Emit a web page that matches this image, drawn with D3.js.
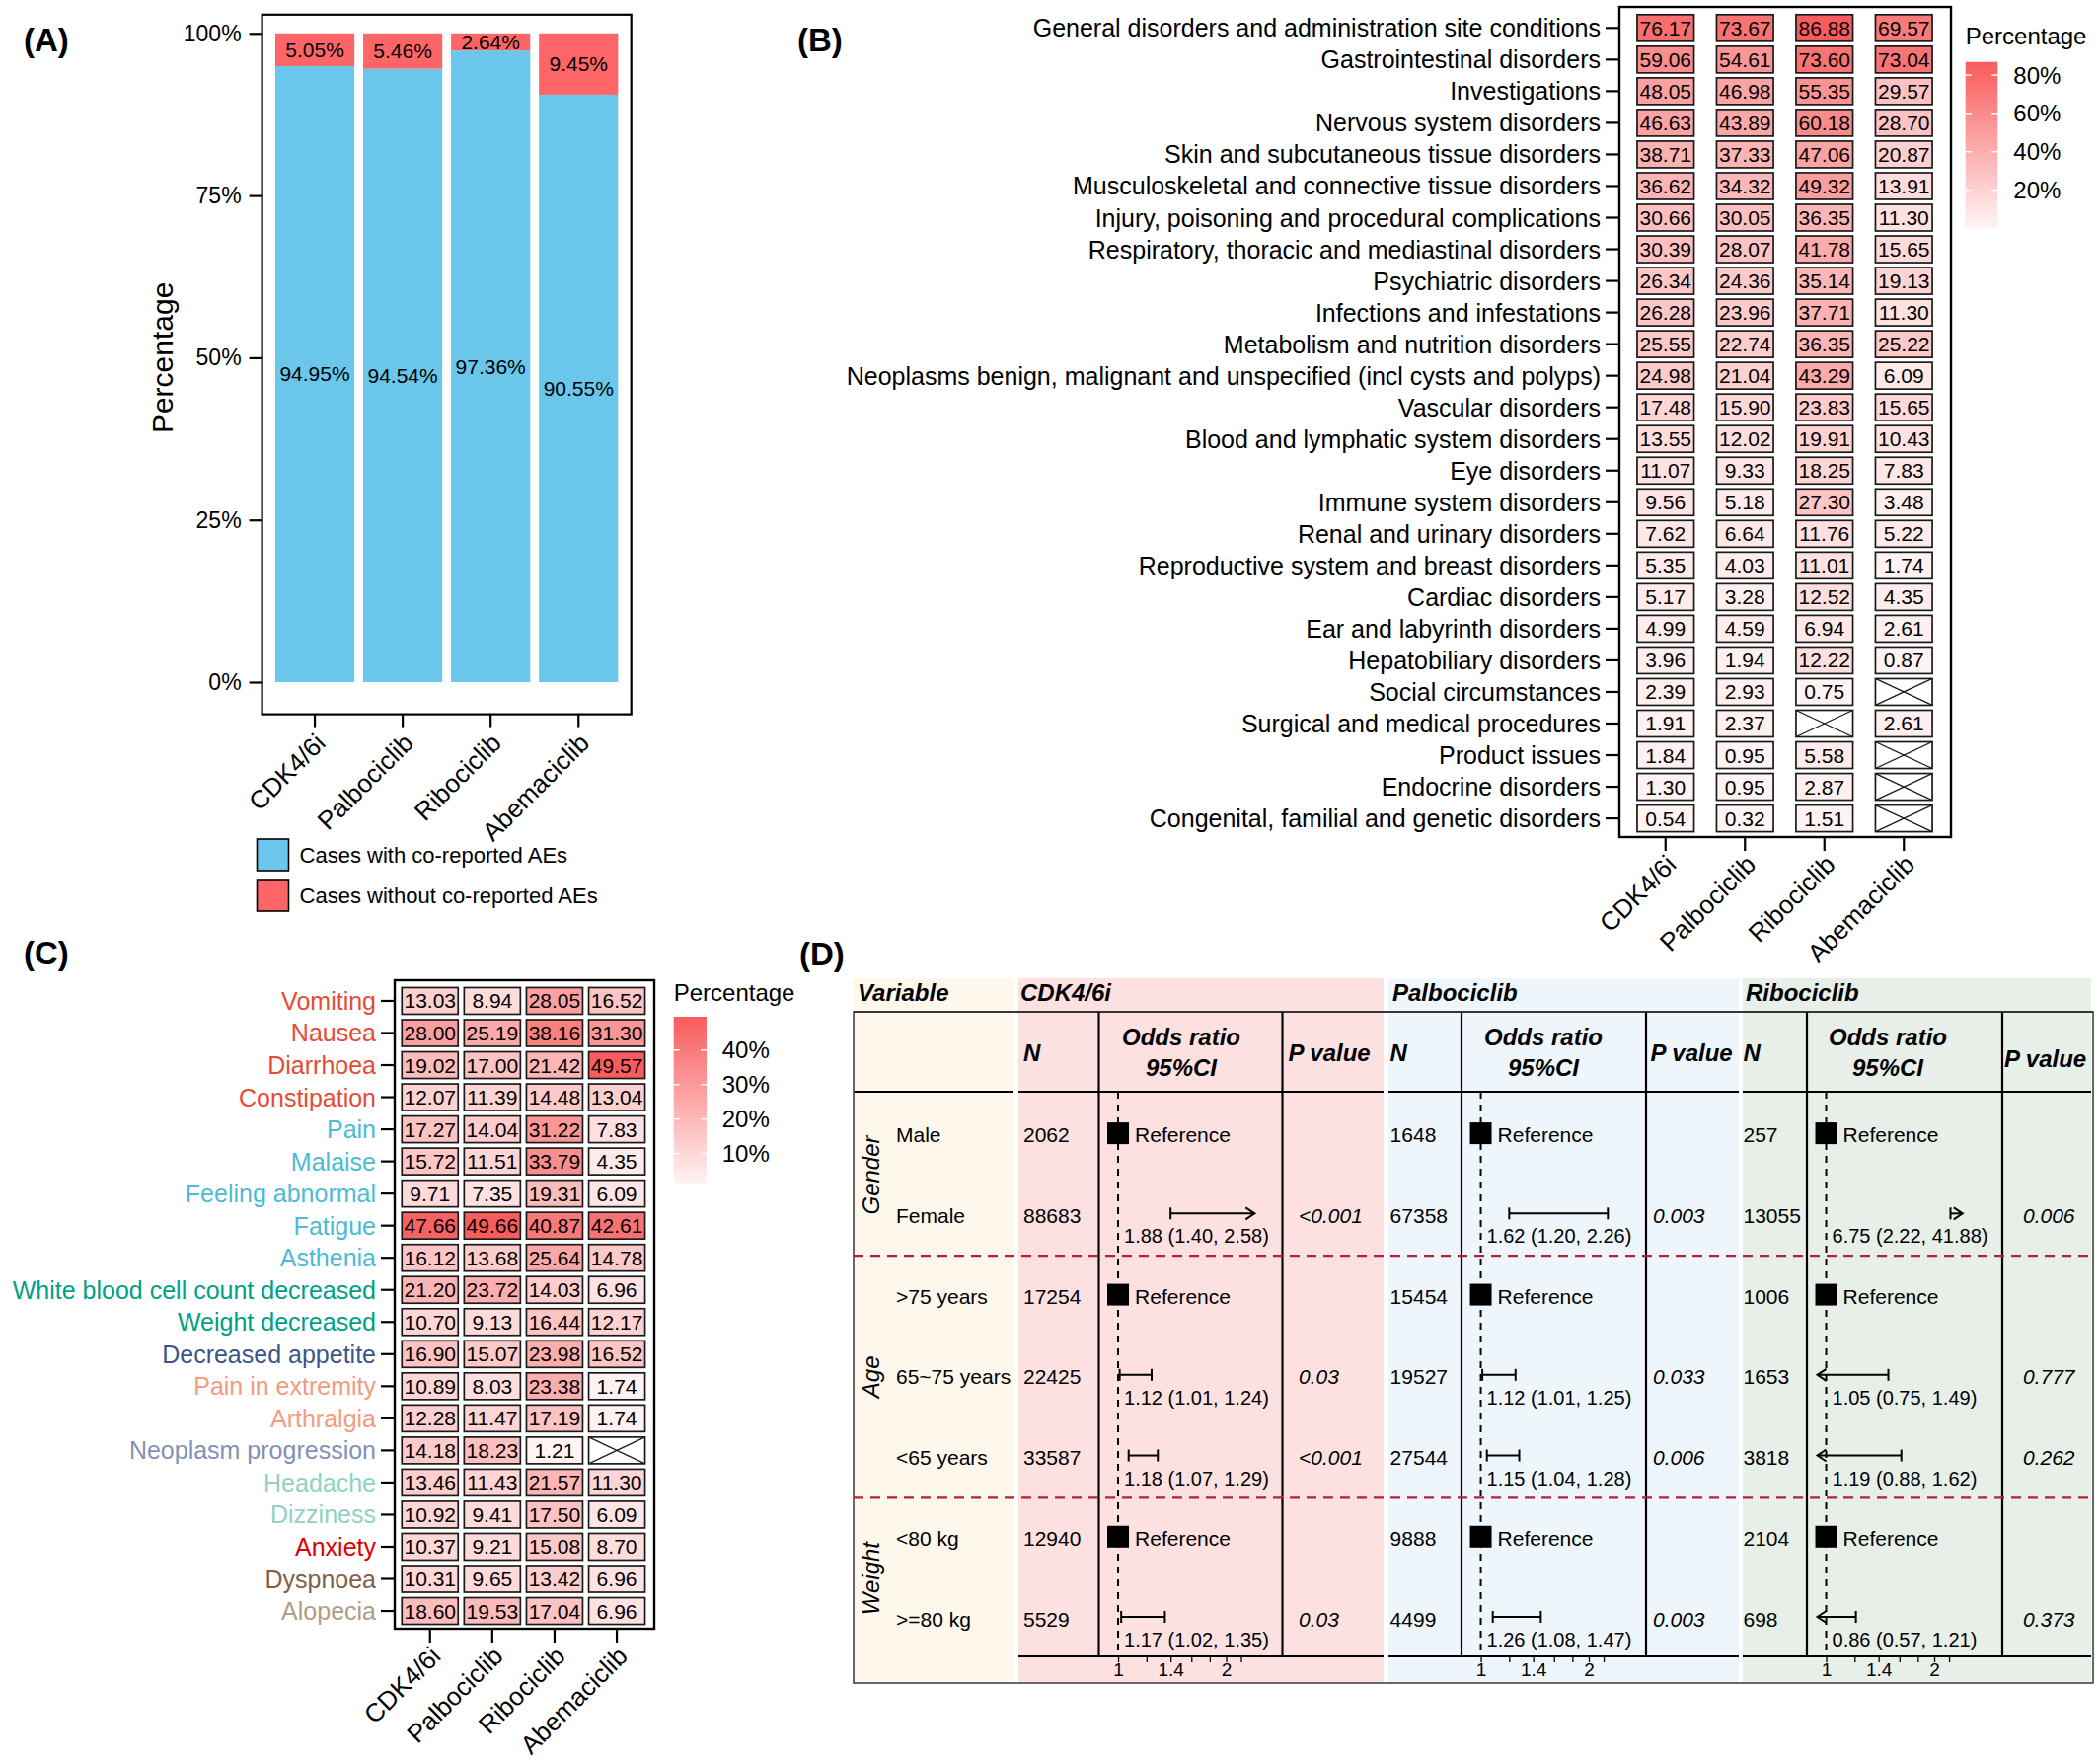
<!DOCTYPE html>
<html>
<head>
<meta charset="utf-8">
<script src="https://cdn.jsdelivr.net/npm/d3@7"></script>
<style>
  body { margin: 0; background: #fff; }
  text { font-family: "Liberation Sans", Arial, sans-serif; }
</style>
</head>
<body>
<svg id="fig" width="2128" height="1785"></svg>
<script>
// ---------- data ----------
var drugs = ["CDK4/6i", "Palbociclib", "Ribociclib", "Abemaciclib"];

// (A) co-reported AEs
var withAEs = [94.95, 94.54, 97.36, 90.55];
var withoutAEs = [5.05, 5.46, 2.64, 9.45];
var pctTicks = [0, 25, 50, 75, 100];
var legendA = ["Cases with co-reported AEs", "Cases without co-reported AEs"];

// (B) SOC percentages
var socNames = ["General disorders and administration site conditions", "Gastrointestinal disorders",
    "Investigations", "Nervous system disorders", "Skin and subcutaneous tissue disorders",
    "Musculoskeletal and connective tissue disorders", "Injury, poisoning and procedural complications",
    "Respiratory, thoracic and mediastinal disorders", "Psychiatric disorders", "Infections and infestations",
    "Metabolism and nutrition disorders", "Neoplasms benign, malignant and unspecified (incl cysts and polyps)",
    "Vascular disorders", "Blood and lymphatic system disorders", "Eye disorders", "Immune system disorders",
    "Renal and urinary disorders", "Reproductive system and breast disorders", "Cardiac disorders",
    "Ear and labyrinth disorders", "Hepatobiliary disorders", "Social circumstances",
    "Surgical and medical procedures", "Product issues", "Endocrine disorders",
    "Congenital, familial and genetic disorders"];
var socCDK = [76.17, 59.06, 48.05, 46.63, 38.71, 36.62, 30.66, 30.39, 26.34, 26.28, 25.55, 24.98, 17.48,
    13.55, 11.07, 9.56, 7.62, 5.35, 5.17, 4.99, 3.96, 2.39, 1.91, 1.84, 1.30, 0.54];
var socPalbo = [73.67, 54.61, 46.98, 43.89, 37.33, 34.32, 30.05, 28.07, 24.36, 23.96, 22.74, 21.04, 15.90,
    12.02, 9.33, 5.18, 6.64, 4.03, 3.28, 4.59, 1.94, 2.93, 2.37, 0.95, 0.95, 0.32];
var socRibo = [86.88, 73.60, 55.35, 60.18, 47.06, 49.32, 36.35, 41.78, 35.14, 37.71, 36.35, 43.29, 23.83,
    19.91, 18.25, 27.30, 11.76, 11.01, 12.52, 6.94, 12.22, 0.75, null, 5.58, 2.87, 1.51];
var socAbema = [69.57, 73.04, 29.57, 28.70, 20.87, 13.91, 11.30, 15.65, 19.13, 11.30, 25.22, 6.09, 15.65,
    10.43, 7.83, 3.48, 5.22, 1.74, 4.35, 2.61, 0.87, null, 2.61, null, null, null];
var socTicks = [20, 40, 60, 80];

// (C) preferred terms
var aeNames = ["Vomiting", "Nausea", "Diarrhoea", "Constipation", "Pain", "Malaise", "Feeling abnormal",
    "Fatigue", "Asthenia", "White blood cell count decreased", "Weight decreased", "Decreased appetite",
    "Pain in extremity", "Arthralgia", "Neoplasm progression", "Headache", "Dizziness", "Anxiety",
    "Dyspnoea", "Alopecia"];
var aeColors = ["#E64B35", "#E64B35", "#E64B35", "#E64B35", "#4DBBD5", "#4DBBD5", "#4DBBD5", "#4DBBD5",
    "#4DBBD5", "#00A087", "#00A087", "#3C5488", "#F39B7F", "#F39B7F", "#8491B4", "#91D1C2", "#91D1C2",
    "#DC0000", "#7E6148", "#B09C85"];
var aeCDK = [13.03, 28.00, 19.02, 12.07, 17.27, 15.72, 9.71, 47.66, 16.12, 21.20, 10.70, 16.90, 10.89,
    12.28, 14.18, 13.46, 10.92, 10.37, 10.31, 18.60];
var aePalbo = [8.94, 25.19, 17.00, 11.39, 14.04, 11.51, 7.35, 49.66, 13.68, 23.72, 9.13, 15.07, 8.03,
    11.47, 18.23, 11.43, 9.41, 9.21, 9.65, 19.53];
var aeRibo = [28.05, 38.16, 21.42, 14.48, 31.22, 33.79, 19.31, 40.87, 25.64, 14.03, 16.44, 23.98, 23.38,
    17.19, 1.21, 21.57, 17.50, 15.08, 13.42, 17.04];
var aeAbema = [16.52, 31.30, 49.57, 13.04, 7.83, 4.35, 6.09, 42.61, 14.78, 6.96, 12.17, 16.52, 1.74,
    1.74, null, 11.30, 6.09, 8.70, 6.96, 6.96];
var aeTicks = [10, 20, 30, 40];

// (D) multivariable odds ratios
var groupNames = ["Gender", "Age", "Weight"];
var subgroups = ["Male", "Female", ">75 years", "65~75 years", "<65 years", "<80 kg", ">=80 kg"];
var subgroupGroup = ["Gender", "Gender", "Age", "Age", "Age", "Weight", "Weight"];
var forestDrugs = ["CDK4/6i", "Palbociclib", "Ribociclib"];
var cdkN = [2062, 88683, 17254, 22425, 33587, 12940, 5529];
var cdkOR = [null, 1.88, null, 1.12, 1.18, null, 1.17];
var cdkLo = [null, 1.40, null, 1.01, 1.07, null, 1.02];
var cdkHi = [null, 2.58, null, 1.24, 1.29, null, 1.35];
var cdkP = ["", "<0.001", "", "0.03", "<0.001", "", "0.03"];
var palboN = [1648, 67358, 15454, 19527, 27544, 9888, 4499];
var palboOR = [null, 1.62, null, 1.12, 1.15, null, 1.26];
var palboLo = [null, 1.20, null, 1.01, 1.04, null, 1.08];
var palboHi = [null, 2.26, null, 1.25, 1.28, null, 1.47];
var palboP = ["", "0.003", "", "0.033", "0.006", "", "0.003"];
var riboN = [257, 13055, 1006, 1653, 3818, 2104, 698];
var riboOR = [null, 6.75, null, 1.05, 1.19, null, 0.86];
var riboLo = [null, 2.22, null, 0.75, 0.88, null, 0.57];
var riboHi = [null, 41.88, null, 1.49, 1.62, null, 1.21];
var riboP = ["", "0.006", "", "0.777", "0.262", "", "0.373"];
var orLimits = [0.945, 2.4];
var orTicks = [1, 1.2, 1.4, 1.6, 1.8, 2, 2.2];
var orTickLabels = ["1", "", "1.4", "", "", "2", ""];

// ---------- drawing ----------
var svg = d3.select("#fig");
svg.append("rect").attr("width", 2128).attr("height", 1785).style("fill", "#fff");

[["(A)", 24, 40], ["(B)", 808, 40], ["(C)", 24, 965], ["(D)", 810, 966]].forEach(function (p) {
    svg.append("text").attr("x", p[1]).attr("y", p[2]).attr("dominant-baseline", "central")
        .style("font-size", "33px").style("font-weight", "bold").text(p[0]);
});

function rotatedLabels(g, xScale, y, size) {
    g.selectAll("text.xl").data(drugs).enter().append("text")
        .attr("class", "xl")
        .attr("transform", function (d) {
            return "translate(" + (xScale(d) + xScale.bandwidth() / 2 + 6) + "," + y + ") rotate(-45)";
        })
        .attr("text-anchor", "end")
        .attr("dominant-baseline", "central")
        .style("font-size", size + "px")
        .text(function (d) { return d; });
}

// ===== (A) stacked bars =====
var gA = svg.append("g");
var ax = d3.scaleBand().domain(drugs).range([265.6, 639.7]).paddingInner(0.1).paddingOuter(0.15);
var ay = d3.scaleLinear().domain([0, 100]).range([691, 33.8]);

gA.selectAll("rect.withAE").data(drugs).enter().append("rect")
    .attr("x", function (d) { return ax(d); })
    .attr("y", function (d, i) { return ay(withAEs[i]); })
    .attr("width", ax.bandwidth())
    .attr("height", function (d, i) { return ay(0) - ay(withAEs[i]); })
    .style("fill", "#6AC6EB");
gA.selectAll("rect.withoutAE").data(drugs).enter().append("rect")
    .attr("x", function (d) { return ax(d); })
    .attr("y", function (d, i) { return ay(withAEs[i] + withoutAEs[i]); })
    .attr("width", ax.bandwidth())
    .attr("height", function (d, i) { return ay(withAEs[i]) - ay(withAEs[i] + withoutAEs[i]); })
    .style("fill", "#FD6566");
gA.selectAll("text.lblWith").data(drugs).enter().append("text")
    .attr("x", function (d) { return ax(d) + ax.bandwidth() / 2; })
    .attr("y", function (d, i) { return ay(withAEs[i] / 2); })
    .attr("text-anchor", "middle").attr("dominant-baseline", "central")
    .style("font-size", "21px")
    .text(function (d, i) { return withAEs[i].toFixed(2) + "%"; });
gA.selectAll("text.lblWithout").data(drugs).enter().append("text")
    .attr("x", function (d) { return ax(d) + ax.bandwidth() / 2; })
    .attr("y", function (d, i) { return ay(withAEs[i] + withoutAEs[i] / 2); })
    .attr("text-anchor", "middle").attr("dominant-baseline", "central")
    .style("font-size", "21px")
    .text(function (d, i) { return withoutAEs[i].toFixed(2) + "%"; });

gA.append("rect").attr("x", 265.6).attr("y", 14.8).attr("width", 374.1).attr("height", 708.8)
    .style("fill", "none").attr("stroke", "black").attr("stroke-width", 2.2);

var yAxisA = gA.append("g").attr("transform", "translate(265.6,0)")
    .call(d3.axisLeft(ay).tickValues(pctTicks).tickFormat(function (d) { return d + "%"; }).tickSize(13).tickPadding(8));
yAxisA.select(".domain").remove();
yAxisA.selectAll("line").attr("stroke-width", 2.2);
yAxisA.selectAll("text").style("font-size", "23px").attr("fill", "black").style("font-family", "Liberation Sans, Arial, sans-serif");

var xAxisA = gA.append("g").attr("transform", "translate(0,723.6)")
    .call(d3.axisBottom(ax).tickSize(13).tickFormat(""));
xAxisA.select(".domain").remove();
xAxisA.selectAll("line").attr("stroke-width", 2.2);
rotatedLabels(gA, ax, 748, 26);

gA.append("text").attr("transform", "translate(164," + ((ay(0) + ay(100)) / 2) + ") rotate(-90)")
    .attr("text-anchor", "middle").attr("dominant-baseline", "central")
    .style("font-size", "30px").text("Percentage");

gA.selectAll("rect.leg").data(legendA).enter().append("rect")
    .attr("x", 260.5).attr("y", function (d, i) { return 850 + i * 41; })
    .attr("width", 32).attr("height", 32)
    .style("fill", function (d, i) { return i === 0 ? "#6AC6EB" : "#FD6566"; })
    .attr("stroke", "black").attr("stroke-width", 1.6);
gA.selectAll("text.leg").data(legendA).enter().append("text")
    .attr("x", 303.6).attr("y", function (d, i) { return 866 + i * 41; })
    .attr("dominant-baseline", "central").style("font-size", "22px")
    .text(function (d) { return d; });

// ===== heatmap helper for (B) and (C) =====
function heatmap(opt) {
    var g = svg.append("g");
    var hx = d3.scaleBand().domain(drugs).range(opt.xRange);
    var hy = d3.scaleBand().domain(opt.rows).range(opt.yRange);
    var all = [];
    opt.cols.forEach(function (c) { c.forEach(function (v) { if (v !== null) all.push(v); }); });
    var lo = d3.min(all), hi = d3.max(all);
    var color = d3.scaleLinear().domain([lo, hi]).range(["#FFF4F4", "#F85C5C"]);

    var cells = [];
    opt.cols.forEach(function (c, j) {
        c.forEach(function (v, i) { cells.push({ drug: drugs[j], row: opt.rows[i], v: v }); });
    });
    var cw = opt.cellW, ch = opt.cellH;
    var cell = g.selectAll("g.cell").data(cells).enter().append("g")
        .attr("transform", function (d) {
            return "translate(" + (hx(d.drug) + hx.bandwidth() / 2) + "," + (hy(d.row) + hy.bandwidth() / 2) + ")";
        });
    cell.append("rect")
        .attr("x", -cw / 2).attr("y", -ch / 2).attr("width", cw).attr("height", ch)
        .style("fill", function (d) { return d.v === null ? "#fff" : color(d.v); })
        .attr("stroke", "#1a1a1a").attr("stroke-width", 1.7);
    cell.filter(function (d) { return d.v === null; }).each(function () {
        var s = d3.select(this);
        s.append("line").attr("x1", -cw / 2).attr("y1", -ch / 2).attr("x2", cw / 2).attr("y2", ch / 2)
            .attr("stroke", "#1a1a1a").attr("stroke-width", 1.3);
        s.append("line").attr("x1", -cw / 2).attr("y1", ch / 2).attr("x2", cw / 2).attr("y2", -ch / 2)
            .attr("stroke", "#1a1a1a").attr("stroke-width", 1.3);
    });
    cell.filter(function (d) { return d.v !== null; }).append("text")
        .attr("text-anchor", "middle").attr("dominant-baseline", "central")
        .style("font-size", opt.valSize + "px")
        .text(function (d) { return d.v.toFixed(2); });

    // frame
    g.append("rect").attr("x", opt.frame[0]).attr("y", opt.frame[1])
        .attr("width", opt.frame[2] - opt.frame[0]).attr("height", opt.frame[3] - opt.frame[1])
        .style("fill", "none").attr("stroke", "black").attr("stroke-width", 2.4);

    // row labels + ticks
    g.selectAll("line.ytick").data(opt.rows).enter().append("line")
        .attr("x1", opt.frame[0] - 14).attr("x2", opt.frame[0])
        .attr("y1", function (d) { return hy(d) + hy.bandwidth() / 2; })
        .attr("y2", function (d) { return hy(d) + hy.bandwidth() / 2; })
        .attr("stroke", "black").attr("stroke-width", 2.2);
    g.selectAll("text.ylab").data(opt.rows).enter().append("text")
        .attr("x", opt.frame[0] - 19)
        .attr("y", function (d) { return hy(d) + hy.bandwidth() / 2; })
        .attr("text-anchor", "end").attr("dominant-baseline", "central")
        .style("font-size", "25px")
        .style("fill", function (d, i) { return opt.rowColors ? opt.rowColors[i] : "black"; })
        .text(function (d) { return d; });

    // x ticks + labels
    g.selectAll("line.xtick").data(drugs).enter().append("line")
        .attr("x1", function (d) { return hx(d) + hx.bandwidth() / 2; })
        .attr("x2", function (d) { return hx(d) + hx.bandwidth() / 2; })
        .attr("y1", opt.frame[3]).attr("y2", opt.frame[3] + 14)
        .attr("stroke", "black").attr("stroke-width", 2.2);
    rotatedLabels(g, hx, opt.frame[3] + 23, 26);

    // colour legend
    var L = opt.legend;
    var ly = d3.scaleLinear().domain([lo, hi]).range([L.y1, L.y0]);
    var gid = "grad" + opt.id;
    var grad = svg.append("defs").append("linearGradient").attr("id", gid)
        .attr("x1", 0).attr("y1", 1).attr("x2", 0).attr("y2", 0);
    d3.range(0, 1.0001, 0.1).forEach(function (t) {
        grad.append("stop").attr("offset", t).attr("stop-color", color(lo + t * (hi - lo)));
    });
    g.append("text").attr("x", L.x).attr("y", L.titleY).attr("dominant-baseline", "central")
        .style("font-size", "24px").text("Percentage");
    g.append("rect").attr("x", L.x).attr("y", L.y0).attr("width", L.w).attr("height", L.y1 - L.y0)
        .style("fill", "url(#" + gid + ")");
    g.selectAll("line.lt1").data(opt.ticks).enter().append("line")
        .attr("x1", L.x).attr("x2", L.x + 6)
        .attr("y1", function (d) { return ly(d); }).attr("y2", function (d) { return ly(d); })
        .attr("stroke", "white").attr("stroke-width", 1.5);
    g.selectAll("line.lt2").data(opt.ticks).enter().append("line")
        .attr("x1", L.x + L.w - 6).attr("x2", L.x + L.w)
        .attr("y1", function (d) { return ly(d); }).attr("y2", function (d) { return ly(d); })
        .attr("stroke", "white").attr("stroke-width", 1.5);
    g.selectAll("text.lt").data(opt.ticks).enter().append("text")
        .attr("x", L.x + L.w + L.gap).attr("y", function (d) { return ly(d); })
        .attr("dominant-baseline", "central").style("font-size", "24px")
        .text(function (d) { return d + "%"; });
}

// ===== (B) =====
heatmap({
    id: "B", rows: socNames, cols: [socCDK, socPalbo, socRibo, socAbema], ticks: socTicks,
    xRange: [1647.5, 1969.5], yRange: [12.3, 845.1], cellW: 57.6, cellH: 27, valSize: 21,
    frame: [1641, 7, 1977, 848],
    legend: { x: 1991.7, w: 32.6, y0: 62.7, y1: 230.7, titleY: 36, gap: 16 }
});

// ===== (C) =====
heatmap({
    id: "C", rows: aeNames, cols: [aeCDK, aePalbo, aeRibo, aeAbema], ticks: aeTicks, rowColors: aeColors,
    xRange: [404.2, 656.6], yRange: [997.7, 1648.3], cellW: 57, cellH: 27, valSize: 21,
    frame: [400, 993, 663, 1650],
    legend: { x: 682.7, w: 33.3, y0: 1030, y1: 1199.3, titleY: 1005, gap: 15.7 }
});

// ===== (D) forest table =====
var gD = svg.append("g");
var blocks = [
    { n: cdkN, or: cdkOR, lo: cdkLo, hi: cdkHi, p: cdkP, bg: "#FDE0E0" },
    { n: palboN, or: palboOR, lo: palboLo, hi: palboHi, p: palboP, bg: "#EEF6FC" },
    { n: riboN, or: riboOR, lo: riboLo, hi: riboHi, p: riboP, bg: "#E8EEE8" }
];
var blockX0 = [1032, 1407, 1766], blockX1 = [1402, 1762, 2119];
var sepA = [1113.5, 1481, 1831], sepB = [1299.5, 1668, 2029];
var nX = [1037, 1408.6, 1766.5], titleX = [1034, 1411, 1769];
var orHeadX = [1197, 1564, 1913], pHeadX = [1305.5, 1672.5, 2031], pHeadY = [1066.6, 1066.6, 1072];
var pX = [1316, 1675, 2050];
var tTop = 991, tLine = 1025, tHead = 1106, tAxis = 1678, tBottom = 1705, tLeft = 865, tRight = 2121;

var ry = d3.scalePoint().domain(subgroups).range([1149.6, 1640]);

gD.append("rect").attr("x", tLeft).attr("y", tTop).attr("width", 1027 - tLeft).attr("height", tBottom - tTop)
    .style("fill", "#FDF7EC");
blocks.forEach(function (b, k) {
    gD.append("rect").attr("x", blockX0[k]).attr("y", tTop).attr("width", blockX1[k] - blockX0[k])
        .attr("height", tBottom - tTop).style("fill", b.bg);
});

function headText(x, y, s, anchor) {
    gD.append("text").attr("x", x).attr("y", y).attr("text-anchor", anchor || "start")
        .attr("dominant-baseline", "central").style("font-size", "24px")
        .style("font-weight", "bold").style("font-style", "italic").text(s);
}
headText(869, 1005, "Variable");
forestDrugs.forEach(function (d, k) {
    headText(titleX[k], 1005, d);
    headText(nX[k], 1066.6, "N");
    headText(orHeadX[k], 1050, "Odds ratio", "middle");
    headText(orHeadX[k], 1081, "95%CI", "middle");
    headText(pHeadX[k], pHeadY[k], "P value");
});

// table lines
gD.append("line").attr("x1", tLeft).attr("x2", tRight).attr("y1", tLine).attr("y2", tLine)
    .attr("stroke", "black").attr("stroke-width", 2.2);
gD.append("line").attr("x1", tLeft).attr("x2", 1027).attr("y1", tHead).attr("y2", tHead)
    .attr("stroke", "black").attr("stroke-width", 2.2);
gD.append("rect").attr("x", tLeft).attr("y", tLine).attr("width", tRight - tLeft).attr("height", tBottom - tLine)
    .style("fill", "none").attr("stroke", "#444").attr("stroke-width", 1.6);

// group and subgroup labels
groupNames.forEach(function (gname) {
    var ys = subgroups.filter(function (s, i) { return subgroupGroup[i] === gname; }).map(ry);
    gD.append("text").attr("transform", "translate(882," + d3.mean(ys) + ") rotate(-90)")
        .attr("text-anchor", "middle").attr("dominant-baseline", "central")
        .style("font-size", "24px").style("font-style", "italic").text(gname);
});
gD.selectAll("text.sub").data(subgroups).enter().append("text")
    .attr("x", 908).attr("y", function (d) { return ry(d); })
    .attr("dominant-baseline", "central").style("font-size", "21px")
    .text(function (d) { return d; });

blocks.forEach(function (b, k) {
    var g = gD.append("g");
    var fx = d3.scaleLog().domain(orLimits).range([sepA[k] + 10.6, sepA[k] + 157.8]);
    var one = fx(1);

    [sepA[k], sepB[k]].forEach(function (sx) {
        g.append("line").attr("x1", sx).attr("x2", sx).attr("y1", tLine).attr("y2", tAxis)
            .attr("stroke", "black").attr("stroke-width", 2.2);
    });
    g.append("line").attr("x1", blockX0[k]).attr("x2", blockX1[k]).attr("y1", tHead).attr("y2", tHead)
        .attr("stroke", "black").attr("stroke-width", 2.2);

    var axis = g.append("g").attr("transform", "translate(0," + tAxis + ")")
        .call(d3.axisBottom(fx).tickValues(orTicks).tickSize(6)
            .tickFormat(function (d, i) { return orTickLabels[i]; }));
    axis.select(".domain").attr("d", "M" + blockX0[k] + ",0H" + blockX1[k]).attr("stroke-width", 2.2);
    axis.selectAll("line").attr("stroke-width", 1.3);
    axis.selectAll("text").attr("y", 13.6).attr("dy", null).attr("dominant-baseline", "central")
        .style("font-size", "19px").attr("fill", "black").style("font-family", "Liberation Sans, Arial, sans-serif");

    g.append("line").attr("x1", one).attr("x2", one).attr("y1", tHead).attr("y2", tAxis)
        .attr("stroke", "black").attr("stroke-width", 2).attr("stroke-dasharray", "7,6");

    subgroups.forEach(function (s, i) {
        var y = ry(s);
        g.append("text").attr("x", nX[k]).attr("y", y).attr("dominant-baseline", "central")
            .style("font-size", "21px").text(b.n[i]);
        if (b.or[i] === null) {
            g.append("rect").attr("x", one - 11).attr("y", y - 12.5).attr("width", 22).attr("height", 22)
                .style("fill", "black");
            g.append("text").attr("x", one + 17).attr("y", y).attr("dominant-baseline", "central")
                .style("font-size", "21px").text("Reference");
            return;
        }
        var cy = y - 2;
        var loClip = b.lo[i] < orLimits[0], hiClip = b.hi[i] > orLimits[1];
        var xa = fx(Math.max(b.lo[i], orLimits[0])), xb = fx(Math.min(b.hi[i], orLimits[1]));
        g.append("line").attr("x1", xa).attr("x2", xb).attr("y1", cy).attr("y2", cy)
            .attr("stroke", "black").attr("stroke-width", 2);
        if (loClip) {
            g.append("path").attr("d", "M" + (xa + 9) + "," + (cy - 6) + "L" + xa + "," + cy + "L" + (xa + 9) + "," + (cy + 6))
                .style("fill", "none").attr("stroke", "black").attr("stroke-width", 2);
        } else {
            g.append("line").attr("x1", xa).attr("x2", xa).attr("y1", cy - 6).attr("y2", cy + 6)
                .attr("stroke", "black").attr("stroke-width", 2);
        }
        if (hiClip) {
            g.append("path").attr("d", "M" + (xb - 9) + "," + (cy - 6) + "L" + xb + "," + cy + "L" + (xb - 9) + "," + (cy + 6))
                .style("fill", "none").attr("stroke", "black").attr("stroke-width", 2);
        } else {
            g.append("line").attr("x1", xb).attr("x2", xb).attr("y1", cy - 6).attr("y2", cy + 6)
                .attr("stroke", "black").attr("stroke-width", 2);
        }
        g.append("text").attr("x", one + 6).attr("y", y + 21).attr("dominant-baseline", "central")
            .style("font-size", "20px")
            .text(b.or[i].toFixed(2) + " (" + b.lo[i].toFixed(2) + ", " + b.hi[i].toFixed(2) + ")");
        g.append("text").attr("x", pX[k]).attr("y", y).attr("dominant-baseline", "central")
            .style("font-size", "21px").style("font-style", "italic").text(b.p[i]);
    });
});

// red dashed group separators
[[1, 2], [4, 5]].forEach(function (pair) {
    var y = (ry(subgroups[pair[0]]) + ry(subgroups[pair[1]])) / 2;
    gD.append("line").attr("x1", tLeft).attr("x2", tRight).attr("y1", y).attr("y2", y)
        .attr("stroke", "#B2203A").attr("stroke-width", 2.2).attr("stroke-dasharray", "10,7");
});
</script>
</body>
</html>
